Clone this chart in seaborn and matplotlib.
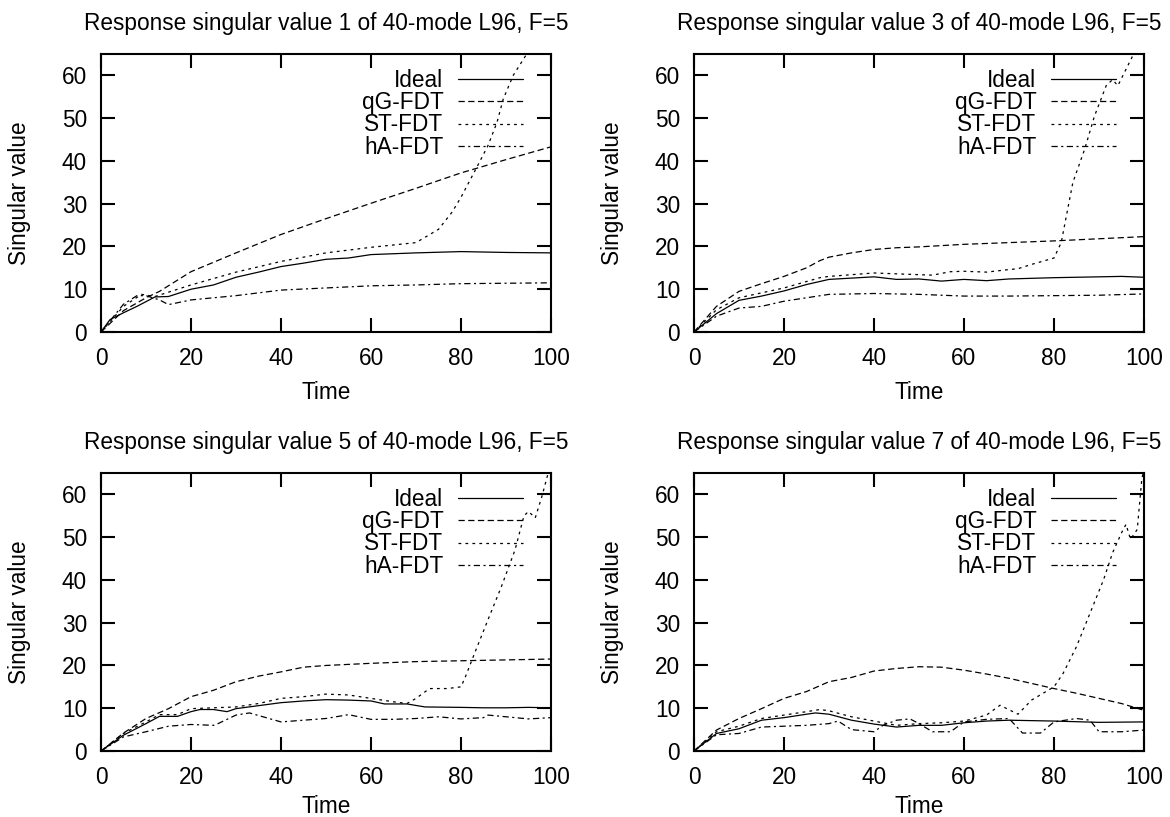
import matplotlib
matplotlib.use("Agg")
import matplotlib.pyplot as plt
import seaborn as sns
import pandas as pd

# ---------------- data ----------------
methods = ["Ideal", "qG-FDT", "ST-FDT", "hA-FDT"]
titles = ["Response singular value 1 of 40-mode L96, F=5",
          "Response singular value 3 of 40-mode L96, F=5",
          "Response singular value 5 of 40-mode L96, F=5",
          "Response singular value 7 of 40-mode L96, F=5"]
x_ticks = [0, 20, 40, 60, 80, 100]
y_ticks = [0, 10, 20, 30, 40, 50, 60]

# Panel 1 (singular value 1)
p1_ideal_t = [0, 2, 5, 8, 12, 15, 20, 25, 30, 35, 40, 45, 50, 55, 60, 70, 80, 90, 100]
p1_ideal_v = [0, 2.9, 4.5, 6.0, 8.2, 8.3, 10.0, 11.0, 12.8, 14.0, 15.3, 16.1, 17.0, 17.3, 18.1, 18.5, 18.8, 18.6, 18.5]
p1_qg_t = [0, 5, 10, 13, 20, 30, 40, 50, 60, 70, 80, 90, 100]
p1_qg_v = [0, 5.0, 8.0, 9.5, 14.1, 18.5, 22.8, 26.5, 30.1, 33.6, 37.2, 40.3, 43.3]
p1_st_t = [0, 5, 9, 12, 20, 30, 40, 50, 60, 70, 75, 78, 80, 83.5, 86, 88, 89.4, 91.6, 94.6, 100]
p1_st_v = [0, 6.0, 8.8, 8.3, 11.0, 14.0, 16.5, 18.5, 19.8, 20.9, 24.0, 28.0, 31.5, 38.5, 43.6, 49.0, 54.5, 60.0, 65.0, 78.0]
p1_ha_t = [0, 5, 8, 10, 13, 15, 20, 30, 40, 50, 60, 70, 80, 90, 100]
p1_ha_v = [0, 6.5, 8.5, 8.5, 7.5, 6.4, 7.5, 8.5, 9.8, 10.3, 10.8, 11.0, 11.3, 11.4, 11.5]

# Panel 2 (singular value 3)
p2_ideal_t = [0, 5, 10, 15, 20, 25, 30, 40, 45, 50, 55, 60, 65, 70, 80, 90, 95, 100]
p2_ideal_v = [0, 4.3, 7.4, 8.4, 9.6, 11.1, 12.3, 12.9, 12.3, 12.4, 11.9, 12.3, 12.0, 12.4, 12.7, 12.9, 13.0, 12.8]
p2_qg_t = [0, 5, 10, 15, 20, 25, 28, 30, 35, 40, 45, 50, 55, 60, 70, 80, 90, 100]
p2_qg_v = [0, 6.0, 9.5, 11.3, 13.0, 15.0, 16.7, 17.5, 18.5, 19.3, 19.7, 19.9, 20.2, 20.5, 20.9, 21.3, 21.8, 22.3]
p2_st_t = [0, 5, 10, 20, 28, 30, 40, 50, 53, 57, 60, 65, 70, 72, 75, 80, 81.6, 84.2, 86.8, 89, 91.6, 93, 94.2, 97.5, 100]
p2_st_v = [0, 5.2, 8.0, 10.3, 12.7, 13.0, 13.8, 13.4, 13.3, 14.1, 14.2, 14.0, 14.6, 14.8, 15.8, 17.3, 20.9, 35.0, 42.7, 50.5, 57.6, 59.0, 57.6, 64.6, 70.0]
p2_ha_t = [0, 5, 10, 15, 20, 30, 40, 50, 60, 70, 80, 90, 100]
p2_ha_v = [0, 3.7, 5.6, 6.0, 7.2, 8.8, 9.0, 8.8, 8.4, 8.4, 8.5, 8.6, 8.9]

# Panel 3 (singular value 5)
p3_ideal_t = [0, 5, 10, 13, 17, 20, 22, 25, 28, 30, 35, 40, 45, 50, 55, 60, 63, 68, 72, 80, 85, 90, 95, 100]
p3_ideal_v = [0, 3.7, 6.4, 8.1, 8.1, 9.2, 9.7, 9.7, 9.2, 9.9, 10.6, 11.3, 11.7, 12.0, 11.9, 11.7, 11.0, 11.0, 10.3, 10.2, 10.1, 10.1, 10.2, 10.1]
p3_qg_t = [0, 5, 10, 15, 20, 25, 30, 35, 40, 45, 50, 60, 70, 80, 90, 100]
p3_qg_v = [0, 4.2, 7.6, 9.9, 12.7, 14.2, 16.2, 17.5, 18.5, 19.6, 20.0, 20.5, 20.9, 21.1, 21.3, 21.5]
p3_st_t = [0, 5, 10, 13, 17, 20, 25, 30, 35, 40, 45, 50, 55, 60, 65, 68, 70, 73, 77, 80, 81, 83, 86, 89, 92, 94, 95, 96.5, 98, 99.5]
p3_st_v = [0, 4.1, 6.8, 8.5, 8.5, 9.9, 10.1, 10.3, 11.1, 12.3, 12.7, 13.3, 13.1, 12.3, 11.5, 11.1, 12.3, 14.6, 14.6, 15.0, 17.4, 22.8, 30.7, 38.5, 47.0, 55.0, 56.0, 54.5, 59.6, 65.5]
p3_ha_t = [0, 5, 10, 15, 20, 25, 26, 30, 33, 36, 40, 45, 50, 55, 60, 65, 70, 75, 80, 85, 86, 90, 95, 100]
p3_ha_v = [0, 3.3, 4.5, 5.8, 6.2, 6.0, 6.4, 8.4, 8.9, 8.0, 6.8, 7.2, 7.6, 8.5, 7.4, 7.4, 7.6, 8.0, 7.5, 7.8, 8.4, 8.0, 7.5, 7.8]

# Panel 4 (singular value 7)
p4_ideal_t = [0, 5, 10, 15, 20, 25, 27, 30, 35, 40, 45, 50, 55, 60, 65, 70, 80, 90, 100]
p4_ideal_v = [0, 4.1, 5.2, 7.2, 7.8, 8.6, 8.9, 8.6, 7.2, 6.3, 5.6, 6.0, 6.0, 6.6, 7.0, 7.2, 7.0, 6.7, 6.8]
p4_qg_t = [0, 5, 10, 15, 20, 25, 30, 35, 40, 45, 50, 55, 60, 65, 70, 75, 80, 85, 90, 95, 100]
p4_qg_v = [0, 4.9, 7.6, 9.9, 12.3, 13.9, 16.2, 17.2, 18.7, 19.3, 19.7, 19.6, 18.9, 18.0, 17.0, 15.8, 14.6, 13.5, 12.3, 11.1, 9.5]
p4_st_t = [0, 5, 10, 15, 20, 25, 28, 30, 35, 40, 45, 50, 55, 60, 65, 68, 72, 75, 80, 82, 85, 88, 91, 93, 95, 96, 97, 98.5, 99.5, 100]
p4_st_v = [0, 4.5, 5.8, 7.6, 8.4, 9.2, 9.7, 9.4, 8.0, 7.0, 6.0, 6.4, 6.6, 7.0, 8.4, 10.7, 8.6, 11.9, 15.0, 18.1, 24.4, 32.2, 40.0, 46.3, 51.0, 53.0, 49.5, 51.8, 63.5, 66.0]
p4_ha_t = [0, 5, 10, 15, 20, 25, 30, 32, 35, 40, 42, 45, 48, 50, 53, 57, 60, 65, 70, 73, 77, 80, 85, 88, 90, 95, 100]
p4_ha_v = [0, 3.8, 4.1, 5.6, 5.8, 6.0, 6.4, 7.0, 5.0, 4.5, 6.0, 7.2, 7.5, 6.4, 4.5, 4.5, 6.8, 7.4, 7.6, 4.2, 4.2, 6.8, 7.6, 7.2, 4.5, 4.5, 4.9]

panels = [
    [(p1_ideal_t, p1_ideal_v), (p1_qg_t, p1_qg_v), (p1_st_t, p1_st_v), (p1_ha_t, p1_ha_v)],
    [(p2_ideal_t, p2_ideal_v), (p2_qg_t, p2_qg_v), (p2_st_t, p2_st_v), (p2_ha_t, p2_ha_v)],
    [(p3_ideal_t, p3_ideal_v), (p3_qg_t, p3_qg_v), (p3_st_t, p3_st_v), (p3_ha_t, p3_ha_v)],
    [(p4_ideal_t, p4_ideal_v), (p4_qg_t, p4_qg_v), (p4_st_t, p4_st_v), (p4_ha_t, p4_ha_v)],
]

# ---------------- styling ----------------
sns.set_theme(style="ticks")
plt.rcParams["font.family"] = ["Liberation Sans", "DejaVu Sans"]
plt.rcParams["text.color"] = "black"
plt.rcParams["axes.labelcolor"] = "black"
plt.rcParams["xtick.color"] = "black"
plt.rcParams["ytick.color"] = "black"
plt.rcParams["lines.scale_dashes"] = False
FS = 16.3

line_styles = {
    "Ideal": "-",
    "qG-FDT": (0, (4.5, 2.5)),
    "ST-FDT": (0, (2.0, 3.0)),
    "hA-FDT": (0, (4.5, 2.5, 1.5, 2.5)),
}

fig = plt.figure(figsize=(11.7, 8.17), dpi=100)
W, H = 1170.0, 817.0
boxes = [(101, 54), (694, 54), (101, 473), (694, 473)]  # left, top in px
aw, ah = 450, 278

for i, (left, top) in enumerate(boxes):
    ax = fig.add_axes([left / W, 1 - (top + ah) / H, aw / W, ah / H])
    for name, (t, v) in zip(methods, panels[i]):
        df = pd.DataFrame({"Time": t, "value": v})
        sns.lineplot(data=df, x="Time", y="value", ax=ax, color="black",
                     linewidth=0.9, linestyle=line_styles[name], label=name,
                     estimator=None, sort=False, legend=False)
    ax.set_xlim(0, 100)
    ax.set_ylim(0, 65)
    ax.set_xticks(x_ticks)
    ax.set_yticks(y_ticks)
    ax.tick_params(direction="in", length=10, width=1.5, top=True, right=True,
                   labelsize=FS, colors="black")
    ax.tick_params(axis="x", pad=11.0)
    ax.tick_params(axis="y", pad=10)
    for sp in ax.spines.values():
        sp.set_linewidth(1.5)
        sp.set_color("black")
    ax.set_xlabel("Time", fontsize=FS, labelpad=7.5 if i < 2 else 4.0)
    ax.set_ylabel("Singular value", fontsize=FS, labelpad=22)
    ax.set_title(titles[i], fontsize=FS, pad=17.3)
    handles = ax.get_lines()[:4]
    ax.legend(handles=handles, labels=methods, loc="upper right", frameon=False,
              markerfirst=False, fontsize=FS, handlelength=2.86,
              labelspacing=-0.04, borderaxespad=0.0, borderpad=0.0,
              handletextpad=0.66, bbox_to_anchor=(0.938, 0.945))

fig.savefig("out.png", dpi=100)
